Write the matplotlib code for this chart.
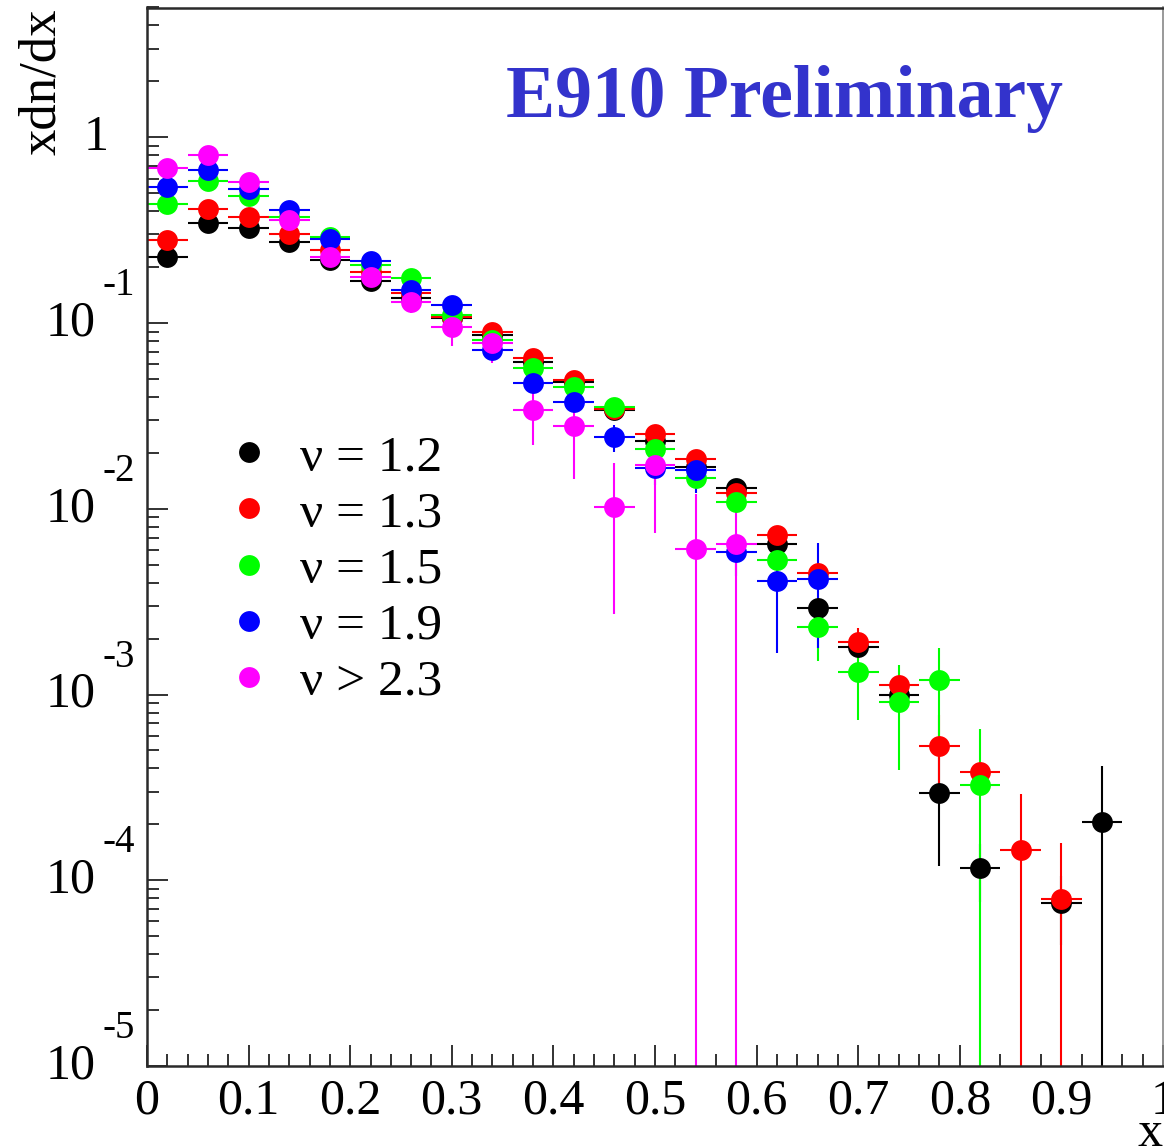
import numpy as np
import matplotlib
matplotlib.use("Agg")
import matplotlib.pyplot as plt
from matplotlib.lines import Line2D
from matplotlib.ticker import LogLocator, NullFormatter, FixedLocator
import matplotlib.transforms as mtransforms

plt.rcParams['font.family'] = ['Liberation Serif', 'DejaVu Serif']

nan = np.nan

# bin centres (bin width 0.04)
x = np.array([0.02, 0.06, 0.10, 0.14, 0.18, 0.22, 0.26, 0.30, 0.34, 0.38, 0.42, 0.46,
              0.50, 0.54, 0.58, 0.62, 0.66, 0.70, 0.74, 0.78, 0.82, 0.86, 0.90, 0.94])
half_bin = 0.02

# nu = 1.2
y_12 = [0.226, 0.344, 0.324, 0.274, 0.218, 0.168, 0.136, 0.106, 0.086, 0.062, 0.048, 0.034,
        0.0232, 0.0168, 0.0129, 0.0065, 0.00293, 0.00181, 0.00100, 0.000296, 0.000116, nan,
        0.000075, 0.000206]
e_12 = [0.006, 0.008, 0.008, 0.006, 0.005, 0.004, 0.003, 0.003, 0.002, 0.002, 0.0015, 0.0012,
        0.001, 0.0008, 0.0007, 0.0005, 0.0003, 0.0002, 0.00015, 0.000176, 0.00004, nan,
        0.00003, 0.000205]
# nu = 1.3
y_13 = [0.28, 0.41, 0.371, 0.301, 0.247, 0.189, 0.146, 0.108, 0.0898, 0.0645, 0.0493, 0.0345,
        0.0254, 0.0185, 0.0121, 0.0072, 0.00452, 0.00192, 0.00112, 0.00053, 0.000384, 0.000146,
        0.0000791, nan]
e_13 = [0.007, 0.009, 0.008, 0.006, 0.005, 0.004, 0.003, 0.003, 0.002, 0.002, 0.0015, 0.0012,
        0.001, 0.0009, 0.0007, 0.0005, 0.0004, 0.00036, 0.0001, 0.00025, 0.00005, 0.000145,
        0.000079, nan]
# nu = 1.5
y_15 = [0.44, 0.58, 0.483, 0.374, 0.29, 0.205, 0.174, 0.11, 0.081, 0.057, 0.045, 0.0354,
        0.0209, 0.0146, 0.0109, 0.0053, 0.00232, 0.00133, 0.000914, 0.00119, 0.000325, nan,
        nan, nan]
e_15 = [0.01, 0.012, 0.01, 0.008, 0.006, 0.005, 0.004, 0.003, 0.002, 0.002, 0.0015, 0.0012,
        0.001, 0.0009, 0.0008, 0.0004, 0.0008, 0.0006, 0.00052, 0.0006, 0.000324, nan,
        nan, nan]
# nu = 1.9
y_19 = [0.54, 0.67, 0.53, 0.406, 0.282, 0.217, 0.151, 0.125, 0.0716, 0.0477, 0.0377, 0.0243,
        0.0165, 0.0162, 0.00587, 0.00408, 0.00417, nan, nan, nan, nan, nan, nan, nan]
e_19 = [0.015, 0.02, 0.015, 0.012, 0.008, 0.006, 0.005, 0.004, 0.004, 0.004, 0.004, 0.004,
        0.003, 0.004, 0.0015, 0.0024, 0.0024, nan, nan, nan, nan, nan, nan, nan]
# nu > 2.3
y_23 = [0.68, 0.80, 0.577, 0.359, 0.226, 0.178, 0.13, 0.0955, 0.0778, 0.034, 0.0279, 0.0102,
        0.0172, 0.00604, 0.00645, nan, nan, nan, nan, nan, nan, nan, nan, nan]
e_23 = [0.03, 0.04, 0.03, 0.025, 0.015, 0.013, 0.017, 0.02, 0.017, 0.012, 0.0135, 0.0075,
        0.0098, 0.00603, 0.00644, nan, nan, nan, nan, nan, nan, nan, nan, nan]

labels = ['ν = 1.2', 'ν = 1.3', 'ν = 1.5', 'ν = 1.9', 'ν > 2.3']
colors = ['#000000', '#ff0000', '#00ff00', '#0000ff', '#ff00ff']
values = [y_12, y_13, y_15, y_19, y_23]
errors = [e_12, e_13, e_15, e_19, e_23]

xticks = [0.0, 0.1, 0.2, 0.3, 0.4, 0.5, 0.6, 0.7, 0.8, 0.9, 1.0]
xticklabels = ['0', '0.1', '0.2', '0.3', '0.4', '0.5', '0.6', '0.7', '0.8', '0.9', '1']
decades = [1, 2, 3, 4, 5]

fig = plt.figure(figsize=(11.64, 11.48), dpi=100)
ax = fig.add_axes([147 / 1164, 82 / 1148, 1016 / 1164, 1058.5 / 1148])

for lab, col, yv, ev in zip(labels, colors, values, errors):
    yv = np.array(yv, float)
    ev = np.array(ev, float)
    m = ~np.isnan(yv)
    ax.errorbar(x[m], yv[m], xerr=half_bin, yerr=ev[m], fmt='o', color=col,
                ms=15, mew=0, elinewidth=1.5, capsize=0)

ax.set_yscale('log')
ax.set_xlim(0, 1)
ax.set_ylim(1e-5, 5)

ax.set_xticks(xticks, xticklabels)
ax.xaxis.set_minor_locator(FixedLocator([t / 50 for t in range(51)]))
ax.yaxis.set_major_locator(LogLocator(base=10, numticks=20))
ax.yaxis.set_minor_locator(LogLocator(base=10, subs=np.arange(2, 10), numticks=20))
ax.yaxis.set_minor_formatter(NullFormatter())

ax.tick_params(which='both', direction='in', top=False, right=False, width=1.3, color='#222222')
ax.tick_params(which='major', length=15)
ax.tick_params(which='minor', length=8.5)
ax.tick_params(axis='x', labelsize=36, pad=9)
ax.tick_params(axis='y', labelleft=False)

for s in ['left', 'bottom', 'top']:
    ax.spines[s].set_linewidth(1.8)
    ax.spines[s].set_color('#2a2a2a')
ax.spines['right'].set_linewidth(1.2)
ax.spines['right'].set_color('#888888')

# y tick labels drawn ROOT style: 10 with superscript exponent
tr = mtransforms.blended_transform_factory(ax.transAxes, ax.transData)
ax.text(-0.038, 1.0, '1', transform=tr, ha='right', va='center', fontsize=36)
sup = mtransforms.offset_copy(tr, fig=fig, x=0, y=27, units='points')
for k in decades:
    ax.text(-0.051, 10.0 ** -k, '10', transform=tr, ha='right', va='center', fontsize=36)
    ax.text(-0.044, 10.0 ** -k, '-%d' % k, transform=sup, ha='left', va='center', fontsize=28)

handles = [Line2D([], [], marker='o', ls='none', color=c, ms=15, mew=0) for c in colors]
ax.legend(handles, labels, loc='upper left', bbox_to_anchor=(0.0748, 0.597), frameon=False,
          fontsize=37, handlelength=1.0, handletextpad=0.5, labelspacing=0.18,
          borderaxespad=0, borderpad=0)

fig.text(784 / 1164, 1 - 99 / 1148, 'E910 Preliminary', color='#3333cc', fontsize=53,
         fontweight='bold', ha='center', va='center')
fig.text(42 / 1164, 1 - 82 / 1148, 'xdn/dx', rotation=90, fontsize=38, ha='center', va='center')
fig.text(1150 / 1164, 1 - 1146 / 1148, 'x', fontsize=36, ha='center', va='baseline')

fig.savefig('out.png', dpi=100)
